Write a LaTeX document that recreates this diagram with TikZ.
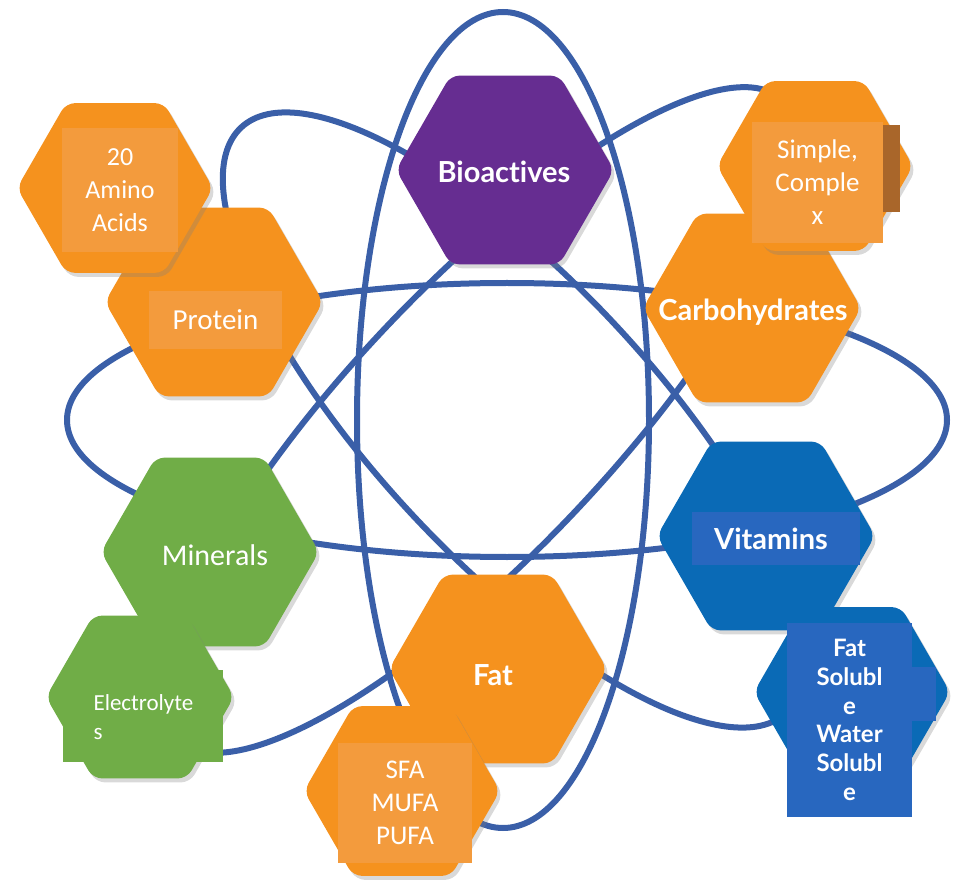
\documentclass[tikz,border=0pt]{standalone}
\usepackage{fontspec}
\setmainfont{Carlito}
\newfontfamily\headfont{Lato}[Ligatures={NoCommon,NoRare}]
\usetikzlibrary{shapes.geometric,shadows}
\definecolor{orbitblue}{HTML}{3A5FA8}
\definecolor{hexorange}{HTML}{F5921E}
\definecolor{boxorange}{HTML}{F39B3D}
\definecolor{boxbrown}{HTML}{A9662A}
\definecolor{hexpurple}{HTML}{662D91}
\definecolor{hexgreen}{HTML}{70AD47}
\definecolor{hexblue}{HTML}{0A6AB6}
\definecolor{boxblue}{HTML}{2867BF}
\begin{document}
\begin{tikzpicture}[x=1pt, y=-1pt, line cap=round, line join=round, text=white, font=\fontsize{27}{33}\selectfont]
	\tikzset{hexa/.style={regular polygon, regular polygon sides=6, minimum size=218pt, inner sep=0pt, rounded corners=9pt, fill=#1, drop shadow={shadow xshift=3pt, shadow yshift=-4pt, opacity=0.3}},
		subhexa/.style={hexa=#1, minimum size=196pt},
		orbit/.style={draw=orbitblue, line width=6pt},
		txtbox/.style={fill=#1, inner sep=0pt, align=center},
		headtxt/.style={font=\headfont\bfseries\fontsize{29}{33}\selectfont}}
	\useasboundingbox (0,0) rectangle (964,882);
	\coordinate (o) at (503,420);
	\draw[orbit] (o) ellipse [x radius=146pt, y radius=408pt];
	\draw[orbit] (507,420) ellipse [x radius=440pt, y radius=137pt];
	\draw[orbit, rotate around={-47:(514,420)}] (514,420) ellipse [x radius=400pt, y radius=139pt];
	\draw[orbit, rotate around={46.7:(480,420)}] (480,420) ellipse [x radius=440pt, y radius=132pt];

	\node[hexa=hexorange] (pro) at (214,302) {};
	\node[hexa=hexpurple] (bio) at (505,170) {};
	\node[hexa=hexorange] (carb) at (752,308) {};
	\node[hexa=hexgreen] (min) at (210,552) {};
	\node[hexa=hexblue] (vit) at (766,536) {};
	\node[hexa=hexorange] (fat) at (498,669) {};
	\node[subhexa=hexorange] (amino) at (115,188) {};
	\node[subhexa=hexorange] (simple) at (815,166) {};
	\node[subhexa=hexgreen, minimum size=188pt] (elec) at (140,697) {};
	\node[subhexa=hexorange] (sfa) at (402,791) {};
	\node[subhexa=hexblue] (fsol) at (852,692) {};

	\node[txtbox=boxorange, minimum width=133pt, minimum height=58pt, font=\fontsize{29}{33}\selectfont] (pro-t) at (215.5,320) {Protein};
	\node[headtxt] (bio-t) at (504,172) {Bioactives};
	\node[headtxt] (carb-t) at (753,312) {Carbohydrates};
	\node[font=\fontsize{30}{33}\selectfont] (min-t) at (215,555) {Minerals};
	\node[txtbox=boxblue, minimum width=168pt, minimum height=53pt, headtxt] (vit-t) at (776,538.5) {\hspace*{-10pt}Vitamins};
	\node[headtxt] (fat-t) at (493,675) {Fat};
	\node[txtbox=boxorange, minimum width=116pt, minimum height=124pt, font=\fontsize{26}{33}\selectfont] (amino-t) at (120,190) {20\\Amino\\Acids};
	\node[txtbox=boxbrown, minimum width=17pt, minimum height=87pt] (simple-s) at (891.5,168.5) {};
	\node[txtbox=boxorange, minimum width=131pt, minimum height=121pt] (simple-t) at (817.5,182.5) {Simple,\\Comple\\x};
	\node[txtbox=hexgreen, minimum width=160pt, minimum height=92pt] (elec-b) at (143,716) {};
	\node[anchor=west, align=left, font=\fontsize{23}{29}\selectfont] (elec-t) at (90,717) {Electrolyte\\s};
	\node[txtbox=boxorange, minimum width=134pt, minimum height=120pt] (sfa-t) at (405,803) {SFA\\MUFA\\PUFA};
	\node[txtbox=boxblue, minimum width=24pt, minimum height=54pt] (fsol-s) at (924,694) {};
	\node[txtbox=boxblue, minimum width=125pt, minimum height=194pt, font=\headfont\bfseries\fontsize{24}{28.8}\selectfont] (fsol-t) at (849.5,720) {Fat\\Solubl\\e\\Water\\Solubl\\e};
\end{tikzpicture}
\end{document}
